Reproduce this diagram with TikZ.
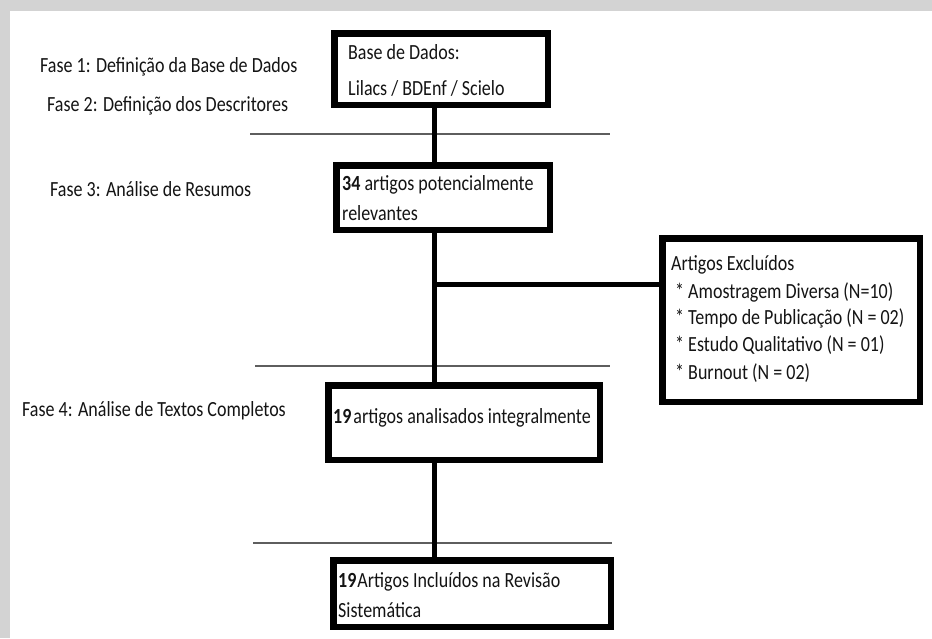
\documentclass[tikz,border=0pt]{standalone}
\usepackage{fontspec}
\setmainfont{Carlito}
\definecolor{frameg}{HTML}{D3D3D3}
\definecolor{sepg}{HTML}{5E5E5E}
\definecolor{txt}{HTML}{141414}
\newcommand{\tallt}[1]{\scalebox{1.0}[1.2]{#1}}
\begin{document}
\begin{tikzpicture}[x=1pt,y=-1pt,
  box/.style={draw=black, line width=6.5pt, fill=white, inner sep=0pt},
  lbl/.style={anchor=west, inner sep=0pt, text=txt, font=\fontsize{18}{22}\selectfont},
  spine/.style={draw=black, line width=5pt},
  sepline/.style={draw=sepg, line width=2.4pt}]
\useasboundingbox (0,0) rectangle (932,638);
\fill[white] (0,0) rectangle (932,638);
\fill[frameg] (0,0) rectangle (932,11);
\fill[frameg] (0,0) rectangle (10,638);

% separators
\draw[sepline] (250,134) -- (610,134);
\draw[sepline] (255,366) -- (610,366);
\draw[sepline] (253,543) -- (612,543);

% boxes
\node[box, minimum width=213.5pt, minimum height=71.5pt] (b1) at (441,69) {};
\node[box, minimum width=213.5pt, minimum height=64.5pt] (b2) at (443,197.5) {};
\node[box, minimum width=257.5pt, minimum height=163.5pt] (bx) at (791,320) {};
\node[box, minimum width=271.5pt, minimum height=74.5pt] (b3) at (464,422.5) {};
\node[box, minimum width=277.5pt, minimum height=66.5pt] (b4) at (472,593.5) {};

% spine
\coordinate (sp) at (434,0);
\coordinate (br) at (434,284);
\draw[spine] (b1.south -| sp) -- (b2.north -| sp);
\draw[spine] (b2.south -| sp) -- (b3.north -| sp);
\draw[spine] (b3.south -| sp) -- (b4.north -| sp);
\draw[spine] (br) -- (br -| bx.west);

% phase labels
\node[lbl] (f1) at (40,67) {\tallt{Fase 1: Definição da Base de Dados}};
\node[lbl] (f2) at (47,106) {\tallt{Fase 2: Definição dos Descritores}};
\node[lbl] (f3) at (50,189) {\tallt{Fase 3: Análise de Resumos}};
\node[lbl] (f4) at (22,411) {\tallt{Fase 4: Análise de Textos Completos}};

% box texts
\node[lbl] (t1a) at (348,52) {\tallt{Base de Dados:}};
\node[lbl] (t1b) at (348,88) {\tallt{Lilacs / BDEnf / Scielo}};
\node[lbl] (t2a) at (342,185) {\tallt{\textbf{34} artigos potencialmente}};
\node[lbl] (t2b) at (342,213) {\tallt{relevantes}};
\node[lbl] (txa) at (671,265) {\tallt{Artigos Excluídos}};
\node[lbl] (txb) at (675,292) {\tallt{* Amostragem Diversa (N=10)}};
\node[lbl] (txc) at (675,318) {\tallt{* Tempo de Publicação (N = 02)}};
\node[lbl] (txd) at (675,345) {\tallt{* Estudo Qualitativo (N = 01)}};
\node[lbl] (txe) at (675,373) {\tallt{* Burnout (N = 02)}};
\node[lbl] (t3) at (333,418) {\tallt{\textbf{19}\hspace{2pt}artigos analisados integralmente}};
\node[lbl] (t4a) at (338,582) {\tallt{\textbf{19}\hspace{1pt}Artigos Incluídos na Revisão}};
\node[lbl] (t4b) at (338,610) {\tallt{Sistemática}};
\end{tikzpicture}
\end{document}
